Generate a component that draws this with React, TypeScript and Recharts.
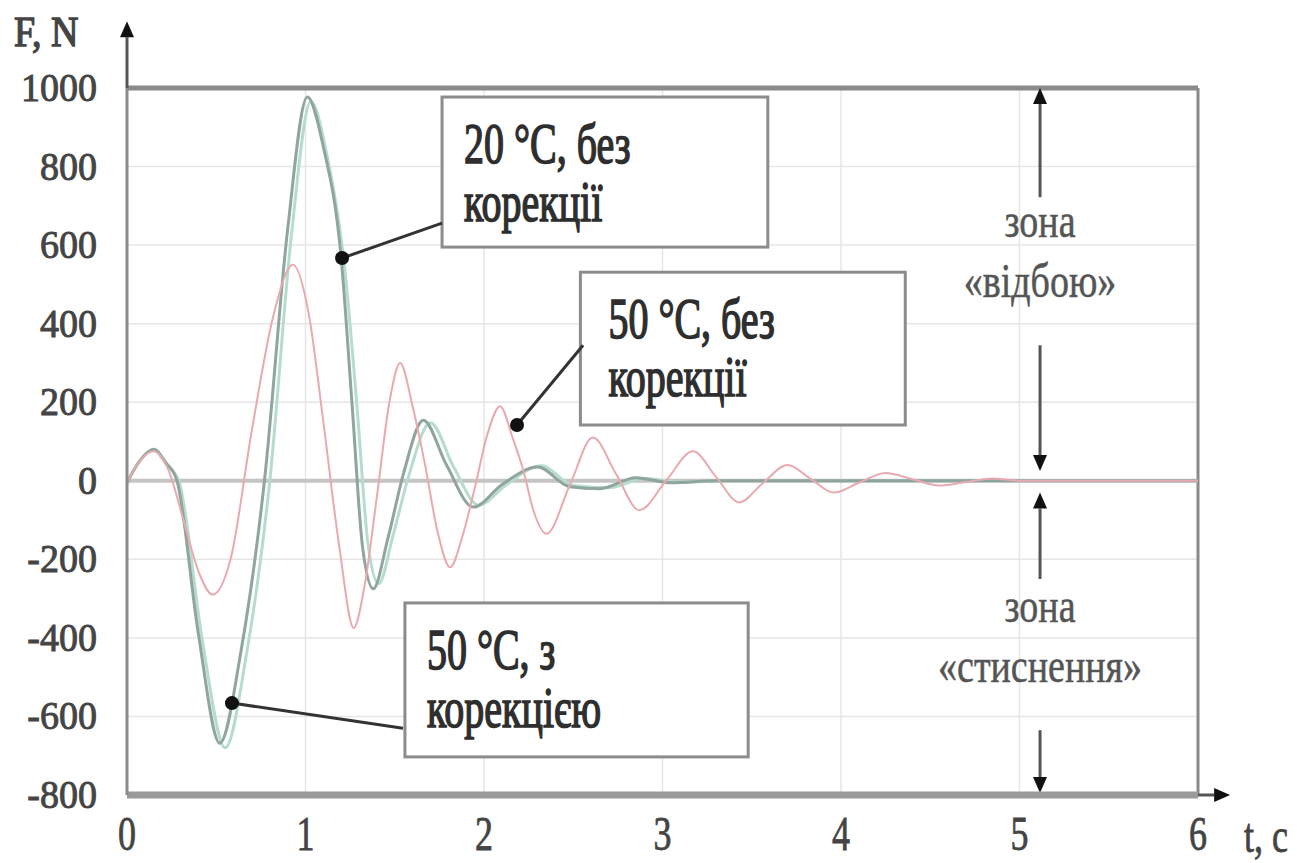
import React from "react";
import {
  CartesianGrid,
  Line,
  LineChart,
  ReferenceArea,
  ReferenceDot,
  ReferenceLine,
  XAxis,
  YAxis,
} from "recharts";

// 20 °C, без корекції (dark grey-green)
const t20 = [0, 0.07, 0.15, 0.22, 0.28, 0.4, 0.52, 0.64, 0.77, 0.9, 1.01, 1.1, 1.2, 1.26, 1.32, 1.38, 1.46, 1.55, 1.66, 1.79, 1.94, 2.1, 2.3, 2.48, 2.65, 2.85, 3.05, 3.3, 3.6, 4.0, 6.0];
const f20 = [-5, 50, 80, 45, 0, -390, -668, -430, 0, 640, 977, 850, 566, 200, -170, -275, -150, 20, 154, 40, -67, -10, 35, -15, -20, 8, -5, 0, 0, 0, 0];

// 50 °C, з корекцією (light green)
const t50c = [0, 0.07, 0.15, 0.22, 0.29, 0.42, 0.55, 0.67, 0.8, 0.92, 1.03, 1.12, 1.22, 1.29, 1.35, 1.41, 1.49, 1.58, 1.7, 1.83, 1.97, 2.13, 2.32, 2.5, 2.7, 2.9, 3.1, 3.4, 3.7, 4.1, 6.0];
const f50c = [-5, 50, 78, 42, 0, -400, -680, -440, 0, 620, 965, 830, 540, 180, -160, -262, -140, 15, 148, 35, -62, -8, 38, -12, -18, 6, -4, 0, 0, 0, 0];

// 50 °C, без корекції (pink)
const t50 = [0, 0.07, 0.15, 0.23, 0.32, 0.4, 0.48, 0.58, 0.7, 0.82, 0.93, 1.02, 1.1, 1.19, 1.27, 1.33, 1.4, 1.47, 1.53, 1.6, 1.67, 1.74, 1.81, 1.88, 1.95, 2.02, 2.09, 2.16, 2.22, 2.28, 2.35, 2.48, 2.61, 2.74, 2.87, 3.02, 3.17, 3.3, 3.43, 3.56, 3.7, 3.83, 3.96, 4.1, 4.25, 4.4, 4.55, 4.7, 4.85, 5.0, 6.0];
const f50 = [-5, 50, 75, 30, -106, -230, -290, -200, 130, 420, 550, 420, 150, -170, -375, -270, -40, 200, 300, 190, 40, -130, -220, -140, -15, 120, 190, 110, 27, -80, -135, -12, 110, 17, -75, 0, 75, 10, -55, -7, 40, 5, -30, -5, 20, 4, -12, -3, 6, 0, 0];

const tTicks = [0, 1, 2, 3, 4, 5, 6];
const fTicks = [-800, -600, -400, -200, 0, 200, 400, 600, 800, 1000];

const toPoints = (ts: number[], fs: number[]) => ts.map((t, i) => ({ t, f: fs[i] }));

const FONT = "Liberation Serif";

function SText({ x, y, size, sy = 1, anchor = "start", fill = "#3a3a3a", thick = 0.7, children }: any) {
  // serif text stretched vertically like the scanned figure; a thin stroke mimics the blur
  return (
    <text
      transform={`translate(${x},${y}) scale(1,${sy})`}
      fontSize={size}
      textAnchor={anchor}
      fill={fill}
      stroke={fill}
      strokeWidth={thick}
      style={{ fontFamily: FONT }}
    >
      {children}
    </text>
  );
}

function Arrow({ x1, y1, x2, y2 }: any) {
  // line with a filled head at (x2, y2)
  const a = Math.atan2(y2 - y1, x2 - x1);
  const L = 16;
  const W = 7;
  const bx = x2 - L * Math.cos(a);
  const by = y2 - L * Math.sin(a);
  const px = -Math.sin(a) * W;
  const py = Math.cos(a) * W;
  return (
    <g>
      <line x1={x1} y1={y1} x2={bx} y2={by} stroke="#555" strokeWidth={3} />
      <polygon points={`${x2},${y2} ${bx + px},${by + py} ${bx - px},${by - py}`} fill="#111" />
    </g>
  );
}

function Leader({ x1, y1, x2, y2 }: any) {
  // (x1, y1) is the point on the curve
  return (
    <g>
      <line x1={x1} y1={y1} x2={x2} y2={y2} stroke="#333" strokeWidth={3} />
      <circle cx={x1} cy={y1} r={7} fill="#111" />
    </g>
  );
}

function boxShape(lines: string[], dx: number) {
  return (p: any) => (
    <g>
      <rect x={p.x} y={p.y} width={p.width} height={p.height} fill="#fff" stroke="#8c8c8c" strokeWidth={3} />
      <SText x={p.x + dx} y={p.y + 66} size={40} sy={1.4} fill="#2e2e2e" thick={1.1}>{lines[0]}</SText>
      <SText x={p.x + dx} y={p.y + 124} size={40} sy={1.4} fill="#2e2e2e" thick={1.1}>{lines[1]}</SText>
    </g>
  );
}

function zoneText(lines: string[]) {
  return (p: any) => (
    <g>
      <SText x={p.cx} y={p.cy - 20} size={38} sy={1.25} anchor="middle" fill="#555" thick={0.4}>{lines[0]}</SText>
      <SText x={p.cx} y={p.cy + 40} size={38} sy={1.25} anchor="middle" fill="#555" thick={0.4}>{lines[1]}</SText>
    </g>
  );
}

const YTick = ({ x, y, payload }: any) => (
  <SText x={x} y={y + 13} size={38} sy={1.05} anchor="end" fill="#444" thick={0.9}>{payload.value}</SText>
);

const XTick = ({ x, y, payload }: any) => (
  <SText x={x} y={y + 55} size={36} sy={1.35} anchor="middle" fill="#444" thick={0.6}>{payload.value}</SText>
);

export default function App() {
  return (
    <div style={{ position: "absolute", left: 0, top: 0, width: 1297, height: 863, background: "#fff" }}>
      <LineChart width={1297} height={863} margin={{ top: 88, right: 99, bottom: 0, left: 17 }}>
        <CartesianGrid stroke="#e6e6e6" strokeWidth={1.5} />
        <XAxis
          type="number"
          dataKey="t"
          domain={[0, 6]}
          ticks={tTicks}
          allowDataOverflow
          height={68}
          tickLine={false}
          tickSize={0}
          tickMargin={0}
          axisLine={{ stroke: "#9a9a9a", strokeWidth: 7 }}
          tick={<XTick />}
        />
        <YAxis
          type="number"
          domain={[-800, 1000]}
          ticks={fTicks}
          allowDataOverflow
          width={110}
          tickLine={false}
          tickSize={0}
          tickMargin={30}
          axisLine={{ stroke: "#8a8a8a", strokeWidth: 3 }}
          tick={<YTick />}
        />
        <ReferenceLine y={0} stroke="#c4c4c4" strokeWidth={4} />
        <ReferenceLine y={1000} stroke="#8a8a8a" strokeWidth={5} />
        <ReferenceLine x={6} stroke="#8a8a8a" strokeWidth={3} />

        <Line data={toPoints(t50c, f50c)} dataKey="f" type="monotone" stroke="#b6dccf" strokeWidth={3} dot={false} isAnimationActive={false} />
        <Line data={toPoints(t20, f20)} dataKey="f" type="monotone" stroke="#8fa59e" strokeWidth={3} dot={false} isAnimationActive={false} />
        <Line data={toPoints(t50, f50)} dataKey="f" type="monotone" stroke="#e8aab0" strokeWidth={2} dot={false} isAnimationActive={false} />

        {/* axis arrows */}
        <ReferenceLine segment={[{ x: 0, y: 1000 }, { x: 0, y: 1170 }]} ifOverflow="visible" shape={(p: any) => <Arrow {...p} />} />
        <ReferenceLine segment={[{ x: 6, y: -800 }, { x: 6.18, y: -800 }]} ifOverflow="visible" shape={(p: any) => <Arrow {...p} />} />

        {/* zone arrows */}
        <ReferenceLine segment={[{ x: 5.115, y: 722 }, { x: 5.115, y: 1000 }]} ifOverflow="visible" shape={(p: any) => <Arrow {...p} />} />
        <ReferenceLine segment={[{ x: 5.115, y: 345 }, { x: 5.115, y: 25 }]} ifOverflow="visible" shape={(p: any) => <Arrow {...p} />} />
        <ReferenceLine segment={[{ x: 5.115, y: -250 }, { x: 5.115, y: -30 }]} ifOverflow="visible" shape={(p: any) => <Arrow {...p} />} />
        <ReferenceLine segment={[{ x: 5.115, y: -635 }, { x: 5.115, y: -795 }]} ifOverflow="visible" shape={(p: any) => <Arrow {...p} />} />
        <ReferenceDot x={5.115} y={570} ifOverflow="visible" shape={zoneText(["зона", "«відбою»"])} />
        <ReferenceDot x={5.115} y={-410} ifOverflow="visible" shape={zoneText(["зона", "«стиснення»"])} />

        {/* callouts */}
        <ReferenceLine segment={[{ x: 1.205, y: 567 }, { x: 1.765, y: 656 }]} ifOverflow="visible" shape={(p: any) => <Leader {...p} />} />
        <ReferenceLine segment={[{ x: 2.185, y: 142 }, { x: 2.555, y: 345 }]} ifOverflow="visible" shape={(p: any) => <Leader {...p} />} />
        <ReferenceLine segment={[{ x: 0.588, y: -566 }, { x: 1.546, y: -630 }]} ifOverflow="visible" shape={(p: any) => <Leader {...p} />} />
        <ReferenceArea x1={1.765} x2={3.59} y1={595} y2={977} ifOverflow="visible" shape={boxShape(["20 °C, без", "корекції"], 22)} />
        <ReferenceArea x1={2.54} x2={4.36} y1={142} y2={531} ifOverflow="visible" shape={boxShape(["50 °C, без", "корекції"], 28)} />
        <ReferenceArea x1={1.557} x2={3.48} y1={-703} y2={-311} ifOverflow="visible" shape={boxShape(["50 °C, з", "корекцією"], 22)} />
      </LineChart>
      <svg width={1297} height={863} style={{ position: "absolute", left: 0, top: 0, pointerEvents: "none" }}>
        <SText x={14} y={46} size={38} sy={1.1} fill="#444" thick={1.2}>F, N</SText>
        <SText x={1244} y={852} size={36} sy={1.35} fill="#444" thick={0.6}>t, c</SText>
      </svg>
    </div>
  );
}
